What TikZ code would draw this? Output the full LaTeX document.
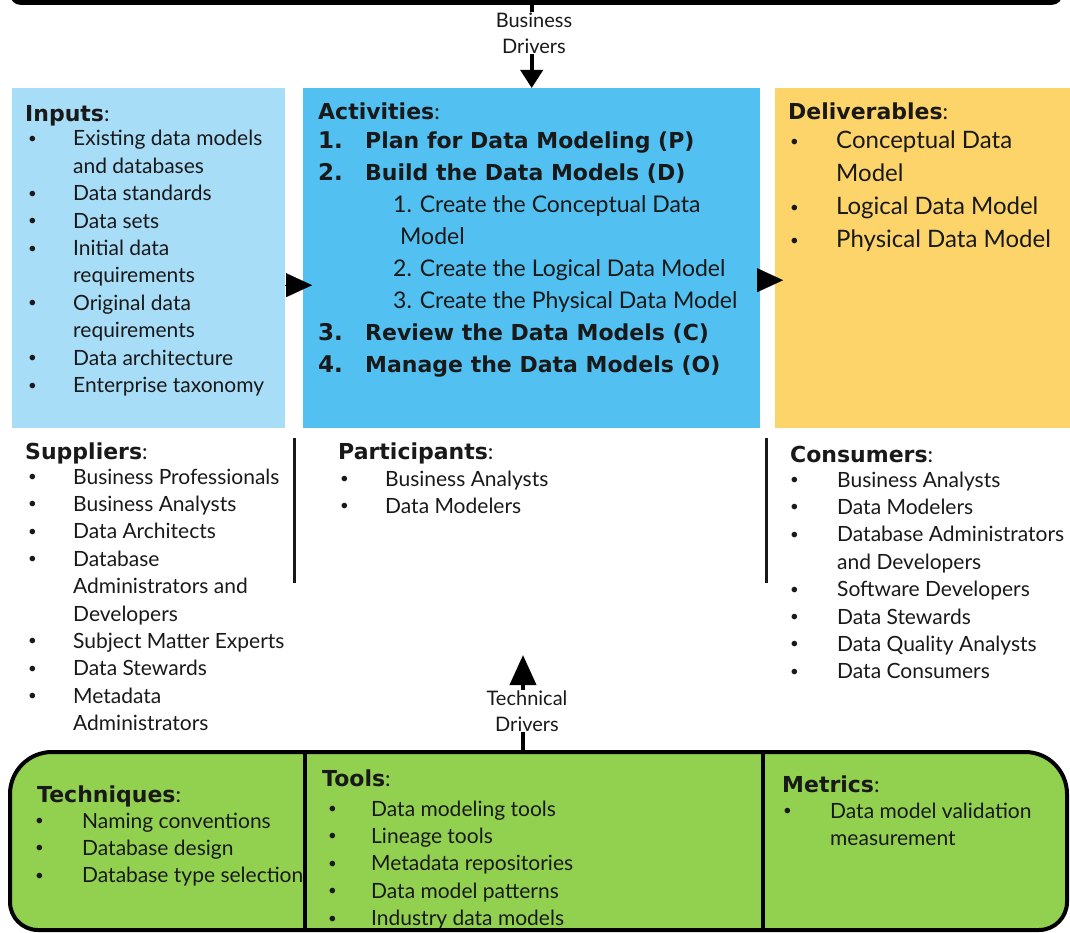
\documentclass[tikz,border=0pt]{standalone}
\usepackage{fontspec}
\setmainfont{Lato}
\newfontfamily\headfont{DejaVu Sans}
\usepackage{tikz}
\usetikzlibrary{arrows.meta}

\definecolor{inblue}{RGB}{168,221,248}
\definecolor{actblue}{RGB}{82,192,240}
\definecolor{delyellow}{RGB}{252,212,106}
\definecolor{toolgreen}{RGB}{146,208,80}
\definecolor{ink}{RGB}{25,25,25}

\newcommand{\bu}{\raisebox{2.5pt}{\fontsize{15}{15}\selectfont\textbullet}}
\newcommand{\hd}[1]{{\headfont\bfseries #1}}

\tikzset{
  panel/.style={anchor=north west, inner sep=0pt, minimum height=340pt},
  sectitle/.style={anchor=base west, inner sep=0pt, text=ink, font=\fontsize{22}{26}\selectfont},
  seclist/.style={anchor=base west, inner sep=0pt, text=ink, font=\fontsize{21}{27.4}\selectfont},
  actlist/.style={anchor=base west, inner sep=0pt, text=ink, font=\fontsize{23}{32}\selectfont},
  dellist/.style={anchor=base west, inner sep=0pt, text=ink, font=\fontsize{24}{33}\selectfont},
  drivertext/.style={fill=white, inner sep=1pt, align=center, text=ink, font=\fontsize{20}{26}\selectfont},
  drivertip/.style={line width=4pt, -{Triangle[length=18pt,width=22pt]}},
  sidetip/.style={line width=0.1pt, -{Triangle[length=26pt,width=24pt]}},
  divider/.style={line width=3pt, ink},
}

\begin{document}
\begin{tikzpicture}[x=1pt,y=-1pt]
\useasboundingbox (0,0) rectangle (1070,933);

% top bar and the three panels
\node[fill=black, rounded corners=10pt, minimum width=1052pt, minimum height=40pt, anchor=south west] (topbar) at (10,5) {};
\node[panel, fill=inblue, minimum width=273pt] (inputs) at (12,88) {};
\node[panel, fill=actblue, minimum width=457pt] (activities) at (303,88) {};
\node[panel, fill=delyellow, minimum width=295pt] (deliverables) at (775,88) {};

\draw[drivertip] (topbar.south -| activities.north) -- (activities.north);
\node[drivertext] (business) at (534,33) {Business\\Drivers};

\draw[sidetip] ([yshift=-27pt]inputs.east) -- ([yshift=-27pt,xshift=9pt]activities.west);
\draw[sidetip] ([yshift=-22pt,xshift=-2pt]activities.east) -- ([yshift=-22pt,xshift=8pt]deliverables.west);

\node[sectitle] (inT) at (25,122) {\hd{Inputs}:};
\node[seclist] (inL) at (28,146) {\begin{tabular}[t]{@{}p{45pt}@{}l@{}}
\bu & Existing data models\\
 & and databases\\
\bu & Data standards\\
\bu & Data sets\\
\bu & Initial data\\
 & requirements\\
\bu & Original data\\
 & requirements\\
\bu & Data architecture\\
\bu & Enterprise taxonomy
\end{tabular}};

\node[sectitle] (actT) at (318,120) {\hd{Activities}:};
\node[actlist] (actL) at (318,149) {\begin{tabular}[t]{@{}p{47pt}@{}l@{}}
\hd{1.} & \hd{\fontsize{22}{32}\selectfont Plan for Data Modeling (P)}\\
\hd{2.} & \hd{\fontsize{22}{32}\selectfont Build the Data Models (D)}\\
 & \hspace*{28pt}1. Create the Conceptual Data\\
 & \hspace*{35pt}Model\\
 & \hspace*{28pt}2. Create the Logical Data Model\\
 & \hspace*{28pt}3. Create the Physical Data Model\\
\hd{3.} & \hd{\fontsize{22}{32}\selectfont Review the Data Models (C)}\\
\hd{4.} & \hd{\fontsize{22}{32}\selectfont Manage the Data Models (O)}
\end{tabular}};

\node[sectitle] (delT) at (788,120) {\hd{Deliverables}:};
\node[dellist] (delL) at (790,149) {\begin{tabular}[t]{@{}p{46pt}@{}l@{}}
\bu & Conceptual Data\\
 & Model\\
\bu & Logical Data Model\\
\bu & Physical Data Model
\end{tabular}};

% middle row
\node[sectitle] (supT) at (25,459) {\hd{Suppliers}:};
\node[seclist] (supL) at (28,484) {\begin{tabular}[t]{@{}p{45pt}@{}l@{}}
\bu & Business Professionals\\
\bu & Business Analysts\\
\bu & Data Architects\\
\bu & Database\\
 & Administrators and\\
 & Developers\\
\bu & Subject Matter Experts\\
\bu & Data Stewards\\
\bu & Metadata\\
 & Administrators
\end{tabular}};

\draw[divider] (294,438) -- (294,583);

\node[sectitle] (parT) at (338,459) {\hd{Participants}:};
\node[seclist] (parL) at (340,486) {\begin{tabular}[t]{@{}p{45pt}@{}l@{}}
\bu & Business Analysts\\
\bu & Data Modelers
\end{tabular}};

\draw[divider] (766,438) -- (766,583);

\node[sectitle] (conT) at (790,462) {\hd{Consumers}:};
\node[seclist] (conL) at (790,487) {\begin{tabular}[t]{@{}p{47pt}@{}l@{}}
\bu & Business Analysts\\
\bu & Data Modelers\\
\bu & Database Administrators\\
 & and Developers\\
\bu & Software Developers\\
\bu & Data Stewards\\
\bu & Data Quality Analysts\\
\bu & Data Consumers
\end{tabular}};

% bottom green bar
\draw[line width=4pt, fill=toolgreen, rounded corners=42pt] (10,850) -- (10,752) -- (1067,752) -- (1067,850) [rounded corners=28pt] -- (1067,930) -- (10,930) -- cycle;
\draw[line width=4pt] (305,752) -- (305,930);
\draw[line width=4pt] (763,752) -- (763,930);

\coordinate (techbase) at (523,750);
\coordinate (techtip) at (523,655);
\draw[line width=4pt, -{Triangle[length=30pt,width=26pt]}] (techbase) -- (techtip);
\node[drivertext] (technical) at (527,711) {Technical\\Drivers};

\node[sectitle] (tecT) at (37,802) {\hd{Techniques}:};
\node[seclist] (tecL) at (35,828) {\begin{tabular}[t]{@{}p{47pt}@{}l@{}}
\bu & Naming conventions\\
\bu & Database design\\
\bu & Database type selection
\end{tabular}};

\node[sectitle] (tooT) at (322,786) {\hd{Tools}:};
\node[seclist] (tooL) at (328,816) {\begin{tabular}[t]{@{}p{43pt}@{}l@{}}
\bu & Data modeling tools\\
\bu & Lineage tools\\
\bu & Metadata repositories\\
\bu & Data model patterns\\
\bu & Industry data models
\end{tabular}};

\node[sectitle] (metT) at (782,792) {\hd{Metrics}:};
\node[seclist] (metL) at (783,818) {\begin{tabular}[t]{@{}p{47pt}@{}l@{}}
\bu & Data model validation\\
 & measurement
\end{tabular}};
\end{tikzpicture}
\end{document}
